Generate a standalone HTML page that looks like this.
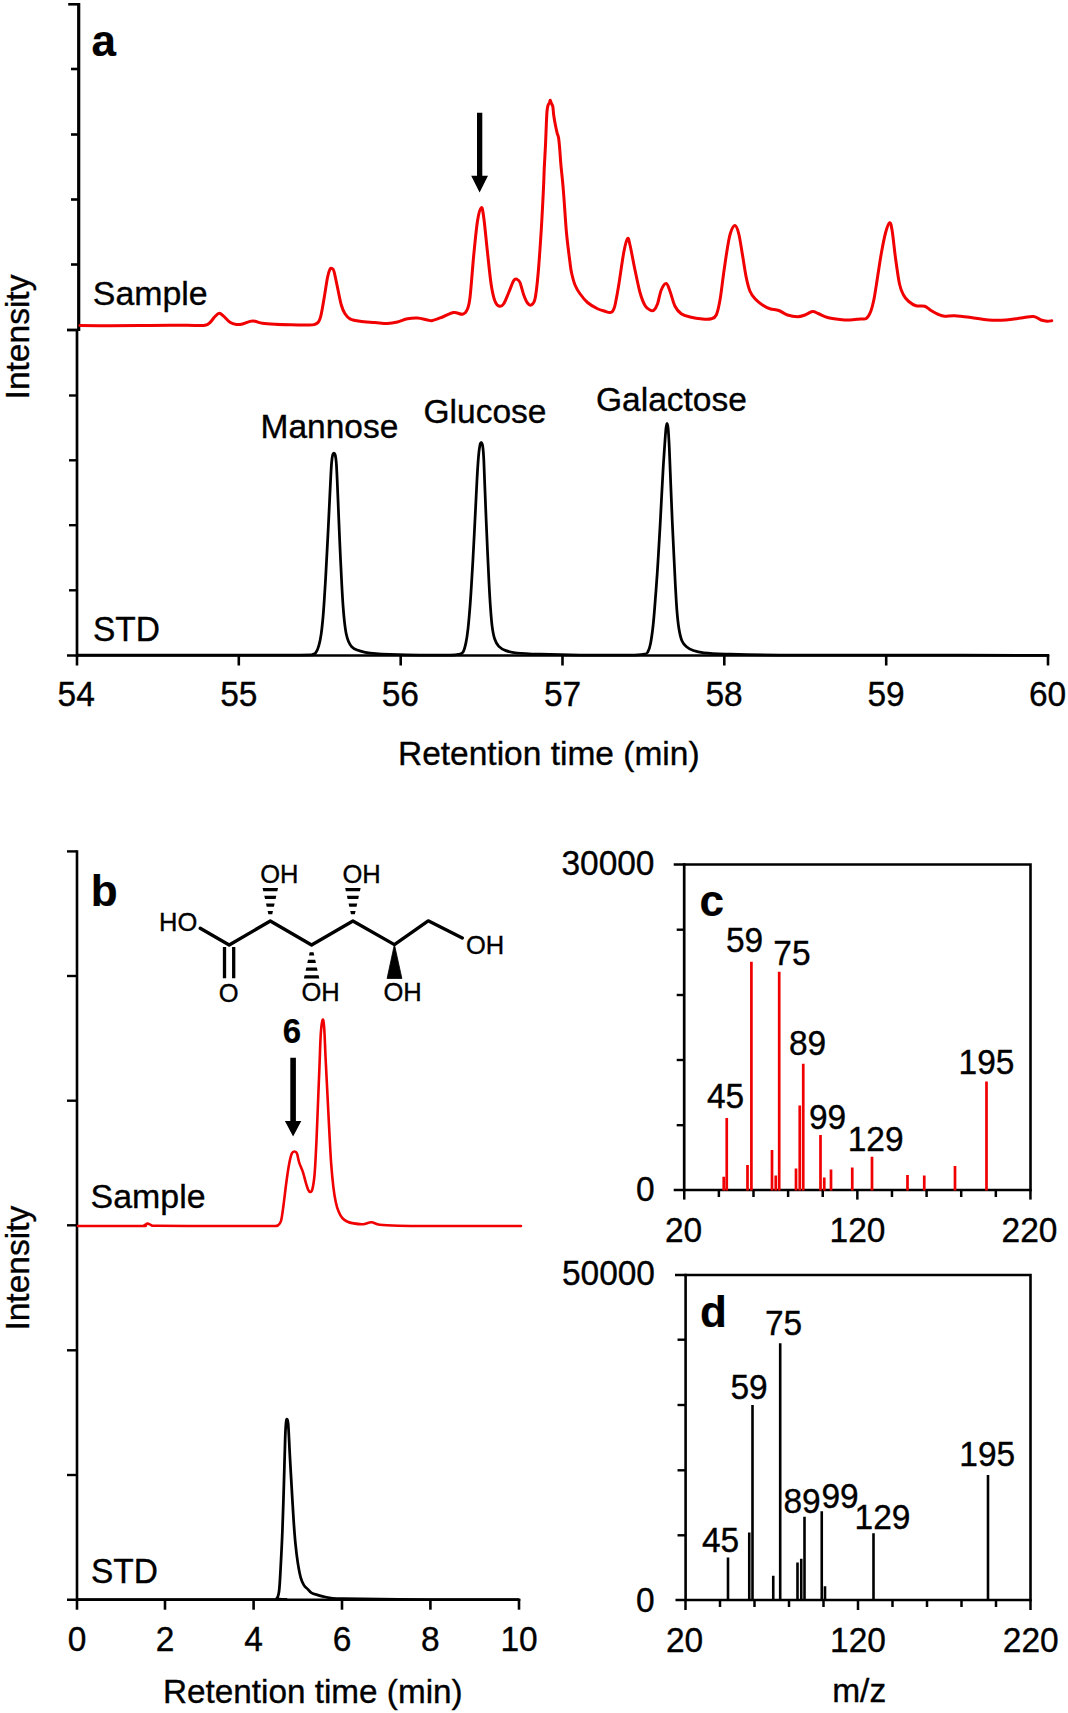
<!DOCTYPE html>
<html lang="en">
<head>
<meta charset="utf-8">
<title>Figure</title>
<style>
html,body{margin:0;padding:0;background:#fff;}
body{width:1068px;height:1713px;overflow:hidden;}
svg{display:block;}
text{font-family:"Liberation Sans",Arial,Helvetica,sans-serif;}
</style>
</head>
<body>
<svg width="1068" height="1713" viewBox="0 0 1068 1713">
<rect width="1068" height="1713" fill="#fff"/>
<g stroke="#000" fill="none" stroke-linecap="butt">
<path d="M78.7 3 V331" stroke-width="3.2"/>
<path d="M68.2 4.3 H79" stroke-width="2.6"/>
<path d="M71 69.0 H79" stroke-width="2.6"/>
<path d="M71 134.5 H79" stroke-width="2.6"/>
<path d="M71 199.5 H79" stroke-width="2.6"/>
<path d="M71 264.5 H79" stroke-width="2.6"/>
<path d="M67 330 H78" stroke-width="2.8"/>
<path d="M77 330 V656.8" stroke-width="2.7"/>
<path d="M69 395.5 H77" stroke-width="2.4"/>
<path d="M69 460.3 H77" stroke-width="2.4"/>
<path d="M69 525.2 H77" stroke-width="2.4"/>
<path d="M69 590.3 H77" stroke-width="2.4"/>
<path d="M67 655.5 H1049.3" stroke-width="2.7"/>
<path d="M77.0 655 V665.5" stroke-width="2.6"/>
<path d="M238.8 655 V665.5" stroke-width="2.6"/>
<path d="M400.7 655 V665.5" stroke-width="2.6"/>
<path d="M562.5 655 V665.5" stroke-width="2.6"/>
<path d="M724.3 655 V665.5" stroke-width="2.6"/>
<path d="M886.2 655 V665.5" stroke-width="2.6"/>
<path d="M1048.0 655 V665.5" stroke-width="2.6"/>
</g>
<path d="M80.00 325.60C85.00 325.63 100.00 325.80 110.00 325.80C120.00 325.80 130.00 325.70 140.00 325.60C150.00 325.50 160.83 325.23 170.00 325.20C179.17 325.17 189.17 325.38 195.00 325.40C200.83 325.42 202.50 325.78 205.00 325.30C207.50 324.82 208.33 323.97 210.00 322.50C211.67 321.03 213.45 318.03 215.00 316.50C216.55 314.97 217.83 313.33 219.30 313.30C220.77 313.27 222.02 314.80 223.80 316.30C225.58 317.80 227.92 320.93 230.00 322.30C232.08 323.67 234.22 324.22 236.30 324.50C238.38 324.78 240.22 324.52 242.50 324.00C244.78 323.48 247.92 321.85 250.00 321.40C252.08 320.95 252.92 320.98 255.00 321.30C257.08 321.62 259.17 322.80 262.50 323.30C265.83 323.80 270.42 324.05 275.00 324.30C279.58 324.55 285.00 324.68 290.00 324.80C295.00 324.92 300.83 325.08 305.00 325.00C309.17 324.92 312.50 325.33 315.00 324.30C317.50 323.27 318.53 322.85 320.00 318.80C321.47 314.75 322.55 306.88 323.80 300.00C325.05 293.12 326.47 282.63 327.50 277.50C328.53 272.37 329.25 270.70 330.00 269.20C330.75 267.70 331.33 268.15 332.00 268.50C332.67 268.85 333.08 268.13 334.00 271.30C334.92 274.47 336.28 281.88 337.50 287.50C338.72 293.12 340.05 300.62 341.30 305.00C342.55 309.38 343.55 311.50 345.00 313.80C346.45 316.10 347.50 317.55 350.00 318.80C352.50 320.05 355.83 320.68 360.00 321.30C364.17 321.92 370.42 322.13 375.00 322.50C379.58 322.87 383.75 323.58 387.50 323.50C391.25 323.42 394.17 322.78 397.50 322.00C400.83 321.22 404.17 319.47 407.50 318.80C410.83 318.13 414.17 317.80 417.50 318.00C420.83 318.20 425.00 319.58 427.50 320.00C430.00 320.42 430.00 321.00 432.50 320.50C435.00 320.00 438.96 318.33 442.50 317.00C446.04 315.67 450.42 312.95 453.75 312.50C457.08 312.05 460.29 314.72 462.50 314.30C464.71 313.88 465.75 312.80 467.00 310.00C468.25 307.20 468.88 306.67 470.00 297.50C471.12 288.33 472.50 267.75 473.75 255.00C475.00 242.25 476.25 228.88 477.50 221.00C478.75 213.12 480.21 208.28 481.25 207.70C482.29 207.12 482.71 210.03 483.75 217.50C484.79 224.97 486.25 241.25 487.50 252.50C488.75 263.75 490.00 276.88 491.25 285.00C492.50 293.12 493.62 297.71 495.00 301.25C496.38 304.79 498.04 305.83 499.50 306.25C500.96 306.67 502.21 306.04 503.75 303.75C505.29 301.46 507.08 296.38 508.75 292.50C510.42 288.62 512.38 282.70 513.75 280.50C515.12 278.30 515.96 278.97 517.00 279.30C518.04 279.63 518.88 279.88 520.00 282.50C521.12 285.12 522.50 291.58 523.75 295.00C525.00 298.42 526.25 301.33 527.50 303.00C528.75 304.67 530.00 305.67 531.25 305.00C532.50 304.33 533.88 304.00 535.00 299.00C536.12 294.00 536.96 286.50 538.00 275.00C539.04 263.50 540.35 244.17 541.25 230.00C542.15 215.83 542.89 200.43 543.40 190.00C543.91 179.57 543.95 174.92 544.30 167.40C544.65 159.88 545.15 152.38 545.50 144.90C545.85 137.42 546.13 128.23 546.40 122.50C546.67 116.77 546.80 113.45 547.10 110.50C547.40 107.55 547.80 106.08 548.20 104.80C548.60 103.52 549.15 103.57 549.50 102.80C549.85 102.03 550.00 100.13 550.30 100.20C550.60 100.27 550.88 102.15 551.30 103.20C551.72 104.25 552.40 104.53 552.80 106.50C553.20 108.47 553.30 112.08 553.70 115.00C554.10 117.92 554.63 121.02 555.20 124.00C555.77 126.98 556.53 130.57 557.10 132.90C557.67 135.23 558.17 135.37 558.60 138.00C559.03 140.63 559.33 144.42 559.70 148.70C560.07 152.98 560.37 158.72 560.80 163.70C561.23 168.68 561.80 173.22 562.30 178.60C562.80 183.98 563.10 186.93 563.80 196.00C564.50 205.07 565.47 221.92 566.50 233.00C567.53 244.08 569.17 255.92 570.00 262.50C570.83 269.08 570.67 268.75 571.50 272.50C572.33 276.25 573.58 281.46 575.00 285.00C576.42 288.54 577.92 290.83 580.00 293.75C582.08 296.67 584.58 300.00 587.50 302.50C590.42 305.00 594.58 307.28 597.50 308.75C600.42 310.22 603.00 310.66 605.00 311.30C607.00 311.94 608.28 312.55 609.50 312.60C610.72 312.65 611.55 312.28 612.30 311.60C613.05 310.92 613.47 309.93 614.00 308.50C614.53 307.07 614.71 306.92 615.50 303.00C616.29 299.08 617.38 293.42 618.75 285.00C620.12 276.58 622.29 260.23 623.75 252.50C625.21 244.77 626.46 239.85 627.50 238.60C628.54 237.35 628.75 239.77 630.00 245.00C631.25 250.23 633.33 262.08 635.00 270.00C636.67 277.92 638.33 286.58 640.00 292.50C641.67 298.42 643.33 302.58 645.00 305.50C646.67 308.42 648.54 309.20 650.00 310.00C651.46 310.80 652.50 311.30 653.75 310.30C655.00 309.30 656.25 307.38 657.50 304.00C658.75 300.62 659.79 293.40 661.25 290.00C662.71 286.60 664.79 283.39 666.25 283.60C667.71 283.81 668.54 287.48 670.00 291.25C671.46 295.02 673.12 302.50 675.00 306.25C676.88 310.00 678.75 311.96 681.25 313.75C683.75 315.54 686.46 316.12 690.00 317.00C693.54 317.88 698.96 318.71 702.50 319.00C706.04 319.29 708.96 319.42 711.25 318.75C713.54 318.08 714.79 318.12 716.25 315.00C717.71 311.88 718.75 307.08 720.00 300.00C721.25 292.92 722.50 281.25 723.75 272.50C725.00 263.75 726.38 254.08 727.50 247.50C728.62 240.92 729.25 236.65 730.50 233.00C731.75 229.35 733.62 225.47 735.00 225.60C736.38 225.72 737.50 228.85 738.75 233.75C740.00 238.65 741.25 247.71 742.50 255.00C743.75 262.29 745.00 271.46 746.25 277.50C747.50 283.54 748.54 287.71 750.00 291.25C751.46 294.79 752.92 296.46 755.00 298.75C757.08 301.04 760.00 303.33 762.50 305.00C765.00 306.67 767.29 307.83 770.00 308.75C772.71 309.67 775.83 309.46 778.75 310.50C781.67 311.54 784.38 313.96 787.50 315.00C790.62 316.04 794.58 316.75 797.50 316.75C800.42 316.75 802.50 315.88 805.00 315.00C807.50 314.12 810.21 311.71 812.50 311.50C814.79 311.29 816.25 312.75 818.75 313.75C821.25 314.75 823.96 316.54 827.50 317.50C831.04 318.46 836.25 319.08 840.00 319.50C843.75 319.92 846.67 320.08 850.00 320.00C853.33 319.92 857.29 319.25 860.00 319.00C862.71 318.75 864.50 319.67 866.25 318.50C868.00 317.33 869.21 315.25 870.50 312.00C871.79 308.75 872.83 304.75 874.00 299.00C875.17 293.25 876.29 285.04 877.50 277.50C878.71 269.96 879.92 261.17 881.25 253.75C882.58 246.33 884.11 238.18 885.50 233.00C886.89 227.82 888.48 223.03 889.60 222.70C890.72 222.37 891.22 225.12 892.20 231.00C893.18 236.88 894.28 249.17 895.50 258.00C896.72 266.83 898.17 277.83 899.50 284.00C900.83 290.17 902.00 292.12 903.50 295.00C905.00 297.88 906.42 299.46 908.50 301.25C910.58 303.04 913.29 304.92 916.00 305.75C918.71 306.58 922.25 305.46 924.75 306.25C927.25 307.04 928.71 309.12 931.00 310.50C933.29 311.88 936.21 313.54 938.50 314.50C940.79 315.46 942.04 316.04 944.75 316.25C947.46 316.46 950.38 315.54 954.75 315.75C959.12 315.96 965.38 316.79 971.00 317.50C976.62 318.21 982.67 319.58 988.50 320.00C994.33 320.42 1000.58 320.33 1006.00 320.00C1011.42 319.67 1016.42 318.58 1021.00 318.00C1025.58 317.42 1030.17 316.17 1033.50 316.50C1036.83 316.83 1038.71 319.21 1041.00 320.00C1043.29 320.79 1045.46 321.12 1047.25 321.25C1049.04 321.38 1051.00 320.83 1051.75 320.75" fill="none" stroke="#f00000" stroke-width="3.0" stroke-linejoin="round" stroke-linecap="round"/>
<path d="M78.00 655.20C98.33 655.20 163.00 655.22 200.00 655.20C237.00 655.18 281.20 655.23 300.00 655.10C318.80 654.97 310.10 654.90 312.80 654.40C315.50 653.90 315.18 653.60 316.20 652.10C317.22 650.60 318.08 648.32 318.90 645.40C319.72 642.48 320.43 639.08 321.10 634.60C321.77 630.12 322.38 624.08 322.90 618.50C323.42 612.92 323.75 607.80 324.20 601.10C324.65 594.40 325.15 586.13 325.60 578.30C326.05 570.47 326.45 562.62 326.90 554.10C327.35 545.58 327.85 536.15 328.30 527.20C328.75 518.25 329.20 508.67 329.60 500.40C330.00 492.13 330.37 483.87 330.70 477.60C331.03 471.33 331.27 466.60 331.60 462.80C331.93 459.00 332.32 456.43 332.70 454.80C333.08 453.17 333.48 453.00 333.90 453.00C334.32 453.00 334.80 453.17 335.20 454.80C335.60 456.43 335.97 458.55 336.30 462.80C336.63 467.05 336.87 472.92 337.20 480.30C337.53 487.68 337.93 498.15 338.30 507.10C338.67 516.05 339.02 525.05 339.40 534.00C339.78 542.95 340.20 552.30 340.60 560.80C341.00 569.30 341.40 577.62 341.80 585.00C342.20 592.38 342.57 599.07 343.00 605.10C343.43 611.13 343.88 616.50 344.40 621.20C344.92 625.90 345.43 629.95 346.10 633.30C346.77 636.65 347.47 639.07 348.40 641.30C349.33 643.53 350.25 645.23 351.70 646.70C353.15 648.17 354.85 649.17 357.10 650.10C359.35 651.03 362.07 651.70 365.20 652.30C368.33 652.90 371.77 653.35 375.90 653.70C380.03 654.05 382.65 654.17 390.00 654.40C397.35 654.63 410.00 654.98 420.00 655.10C430.00 655.22 443.52 655.23 450.00 655.10C456.48 654.97 456.72 654.82 458.90 654.30C461.08 653.78 461.93 653.90 463.10 652.00C464.27 650.10 465.08 646.75 465.90 642.90C466.72 639.05 467.30 635.20 468.00 628.90C468.70 622.60 469.52 612.57 470.10 605.10C470.68 597.63 471.03 591.57 471.50 584.10C471.97 576.63 472.43 568.72 472.90 560.30C473.37 551.88 473.83 542.72 474.30 533.60C474.77 524.48 475.23 514.93 475.70 505.60C476.17 496.27 476.63 485.77 477.10 477.60C477.57 469.43 478.03 461.97 478.50 456.60C478.97 451.23 479.43 447.73 479.90 445.40C480.37 443.07 480.83 442.48 481.30 442.60C481.77 442.72 482.30 443.53 482.70 446.10C483.10 448.67 483.35 451.35 483.70 458.00C484.05 464.65 484.38 475.50 484.80 486.00C485.22 496.50 485.73 509.80 486.20 521.00C486.67 532.20 487.13 542.92 487.60 553.20C488.07 563.48 488.53 573.82 489.00 582.70C489.47 591.58 489.88 599.27 490.40 606.50C490.92 613.73 491.40 620.73 492.10 626.10C492.80 631.47 493.48 635.32 494.60 638.70C495.72 642.08 496.93 644.42 498.80 646.40C500.67 648.38 502.77 649.50 505.80 650.60C508.83 651.70 511.30 652.40 517.00 653.00C522.70 653.60 529.50 653.85 540.00 654.20C550.50 654.55 565.00 654.95 580.00 655.10C595.00 655.25 619.33 655.25 630.00 655.10C640.67 654.95 641.03 654.72 644.00 654.20C646.97 653.68 646.72 653.75 647.80 652.00C648.88 650.25 649.62 648.12 650.50 643.70C651.38 639.28 652.30 632.83 653.10 625.50C653.90 618.17 654.62 608.30 655.30 599.70C655.98 591.10 656.63 582.25 657.20 573.90C657.77 565.55 658.20 557.95 658.70 549.60C659.20 541.25 659.70 532.90 660.20 523.80C660.70 514.70 661.20 504.35 661.70 495.00C662.20 485.65 662.68 476.30 663.20 467.70C663.72 459.10 664.33 449.98 664.80 443.40C665.27 436.82 665.63 431.53 666.00 428.20C666.37 424.87 666.65 423.40 667.00 423.40C667.35 423.40 667.72 424.12 668.10 428.20C668.48 432.28 668.85 438.28 669.30 447.90C669.75 457.52 670.30 473.50 670.80 485.90C671.30 498.30 671.78 510.67 672.30 522.30C672.82 533.93 673.38 545.08 673.90 555.70C674.42 566.32 674.90 576.90 675.40 586.00C675.90 595.10 676.32 603.22 676.90 610.30C677.48 617.38 678.07 623.43 678.90 628.50C679.73 633.57 680.63 637.67 681.90 640.70C683.17 643.73 684.60 645.07 686.50 646.70C688.40 648.33 690.40 649.48 693.30 650.50C696.20 651.52 698.62 652.22 703.90 652.80C709.18 653.38 712.32 653.62 725.00 654.00C737.68 654.38 750.83 654.90 780.00 655.10C809.17 655.30 855.17 655.17 900.00 655.20C944.83 655.23 1024.17 655.28 1049.00 655.30" fill="none" stroke="#000" stroke-width="2.75" stroke-linejoin="round"/>
<path d="M477 112.8 H482.3 V175.7 H488 L479.6 192.5 L471.2 175.7 H477 Z" fill="#000"/>
<g font-family='"Liberation Sans", Arial, Helvetica, sans-serif' fill="#000">
<text transform="translate(91.50 55.50) scale(1 1.000)" font-size="44.00" text-anchor="start" font-weight="bold" stroke="#000" stroke-width="0.20">a</text>
<text transform="translate(92.80 304.70) scale(1 1.000)" font-size="33.90" text-anchor="start" font-weight="normal" stroke="#000" stroke-width="0.35">Sample</text>
<text transform="translate(93.00 641.00) scale(1 1.050)" font-size="33.50" text-anchor="start" font-weight="normal" stroke="#000" stroke-width="0.35">STD</text>
<text transform="translate(260.50 438.30) scale(1 1.000)" font-size="33.50" text-anchor="start" font-weight="normal" stroke="#000" stroke-width="0.35">Mannose</text>
<text transform="translate(423.50 423.40) scale(1 1.000)" font-size="33.50" text-anchor="start" font-weight="normal" stroke="#000" stroke-width="0.35">Glucose</text>
<text transform="translate(596.00 411.00) scale(1 1.000)" font-size="33.50" text-anchor="start" font-weight="normal" stroke="#000" stroke-width="0.35">Galactose</text>
<text transform="translate(76.20 706.30) scale(1 1.050)" font-size="33.50" text-anchor="middle" font-weight="normal" stroke="#000" stroke-width="0.35">54</text>
<text transform="translate(238.80 706.30) scale(1 1.050)" font-size="33.50" text-anchor="middle" font-weight="normal" stroke="#000" stroke-width="0.35">55</text>
<text transform="translate(400.30 706.30) scale(1 1.050)" font-size="33.50" text-anchor="middle" font-weight="normal" stroke="#000" stroke-width="0.35">56</text>
<text transform="translate(562.50 706.30) scale(1 1.050)" font-size="33.50" text-anchor="middle" font-weight="normal" stroke="#000" stroke-width="0.35">57</text>
<text transform="translate(724.10 706.30) scale(1 1.050)" font-size="33.50" text-anchor="middle" font-weight="normal" stroke="#000" stroke-width="0.35">58</text>
<text transform="translate(886.00 706.30) scale(1 1.050)" font-size="33.50" text-anchor="middle" font-weight="normal" stroke="#000" stroke-width="0.35">59</text>
<text transform="translate(1047.50 706.30) scale(1 1.050)" font-size="33.50" text-anchor="middle" font-weight="normal" stroke="#000" stroke-width="0.35">60</text>
<text transform="translate(548.75 764.60) scale(1 1.000)" font-size="33.50" text-anchor="middle" font-weight="normal" stroke="#000" stroke-width="0.35">Retention time (min)</text>
<text transform="translate(29.4 337) rotate(-90)" font-size="33.50" text-anchor="middle" stroke="#000" stroke-width="0.35">Intensity</text>
<text transform="translate(90.70 905.50) scale(1 1.000)" font-size="44.00" text-anchor="start" font-weight="bold" stroke="#000" stroke-width="0.20">b</text>
<text transform="translate(90.60 1208.20) scale(1 1.000)" font-size="33.90" text-anchor="start" font-weight="normal" stroke="#000" stroke-width="0.35">Sample</text>
<text transform="translate(91.00 1582.50) scale(1 1.050)" font-size="33.50" text-anchor="start" font-weight="normal" stroke="#000" stroke-width="0.35">STD</text>
<text transform="translate(77.00 1650.50) scale(1 1.050)" font-size="33.50" text-anchor="middle" font-weight="normal" stroke="#000" stroke-width="0.35">0</text>
<text transform="translate(165.00 1650.50) scale(1 1.050)" font-size="33.50" text-anchor="middle" font-weight="normal" stroke="#000" stroke-width="0.35">2</text>
<text transform="translate(253.60 1650.50) scale(1 1.050)" font-size="33.50" text-anchor="middle" font-weight="normal" stroke="#000" stroke-width="0.35">4</text>
<text transform="translate(342.00 1650.50) scale(1 1.050)" font-size="33.50" text-anchor="middle" font-weight="normal" stroke="#000" stroke-width="0.35">6</text>
<text transform="translate(430.40 1650.50) scale(1 1.050)" font-size="33.50" text-anchor="middle" font-weight="normal" stroke="#000" stroke-width="0.35">8</text>
<text transform="translate(519.00 1650.50) scale(1 1.050)" font-size="33.50" text-anchor="middle" font-weight="normal" stroke="#000" stroke-width="0.35">10</text>
<text transform="translate(312.80 1702.50) scale(1 1.000)" font-size="33.30" text-anchor="middle" font-weight="normal" stroke="#000" stroke-width="0.35">Retention time (min)</text>
<text transform="translate(28.5 1268.2) rotate(-90)" font-size="33.50" text-anchor="middle" stroke="#000" stroke-width="0.35">Intensity</text>
<text transform="translate(291.80 1042.50) scale(1 1.050)" font-size="33.00" text-anchor="middle" font-weight="bold" stroke="#000" stroke-width="0.20">6</text>
<text transform="translate(159.00 930.70) scale(1 1.000)" font-size="25.50" text-anchor="start" font-weight="normal" stroke="#000" stroke-width="0.35">HO</text>
<text transform="translate(228.60 1001.50) scale(1 1.000)" font-size="25.50" text-anchor="middle" font-weight="normal" stroke="#000" stroke-width="0.35">O</text>
<text transform="translate(260.20 883.00) scale(1 1.000)" font-size="25.50" text-anchor="start" font-weight="normal" stroke="#000" stroke-width="0.35">OH</text>
<text transform="translate(342.50 883.00) scale(1 1.000)" font-size="25.50" text-anchor="start" font-weight="normal" stroke="#000" stroke-width="0.35">OH</text>
<text transform="translate(301.50 1001.30) scale(1 1.000)" font-size="25.50" text-anchor="start" font-weight="normal" stroke="#000" stroke-width="0.35">OH</text>
<text transform="translate(383.50 1001.30) scale(1 1.000)" font-size="25.50" text-anchor="start" font-weight="normal" stroke="#000" stroke-width="0.35">OH</text>
<text transform="translate(466.00 953.80) scale(1 1.000)" font-size="25.50" text-anchor="start" font-weight="normal" stroke="#000" stroke-width="0.35">OH</text>
<text transform="translate(654.50 875.00) scale(1 1.050)" font-size="33.50" text-anchor="end" font-weight="normal" stroke="#000" stroke-width="0.35">30000</text>
<text transform="translate(654.50 1201.00) scale(1 1.050)" font-size="33.50" text-anchor="end" font-weight="normal" stroke="#000" stroke-width="0.35">0</text>
<text transform="translate(683.50 1241.50) scale(1 1.050)" font-size="33.50" text-anchor="middle" font-weight="normal" stroke="#000" stroke-width="0.35">20</text>
<text transform="translate(857.50 1241.50) scale(1 1.050)" font-size="33.50" text-anchor="middle" font-weight="normal" stroke="#000" stroke-width="0.35">120</text>
<text transform="translate(1029.50 1241.50) scale(1 1.050)" font-size="33.50" text-anchor="middle" font-weight="normal" stroke="#000" stroke-width="0.35">220</text>
<text transform="translate(699.50 916.00) scale(1 1.000)" font-size="44.00" text-anchor="start" font-weight="bold" stroke="#000" stroke-width="0.20">c</text>
<text transform="translate(725.60 1108.00) scale(1 1.050)" font-size="33.50" text-anchor="middle" font-weight="normal" stroke="#000" stroke-width="0.35">45</text>
<text transform="translate(744.60 952.00) scale(1 1.050)" font-size="33.50" text-anchor="middle" font-weight="normal" stroke="#000" stroke-width="0.35">59</text>
<text transform="translate(791.90 965.00) scale(1 1.050)" font-size="33.50" text-anchor="middle" font-weight="normal" stroke="#000" stroke-width="0.35">75</text>
<text transform="translate(807.50 1055.30) scale(1 1.050)" font-size="33.50" text-anchor="middle" font-weight="normal" stroke="#000" stroke-width="0.35">89</text>
<text transform="translate(827.50 1129.20) scale(1 1.050)" font-size="33.50" text-anchor="middle" font-weight="normal" stroke="#000" stroke-width="0.35">99</text>
<text transform="translate(875.60 1150.50) scale(1 1.050)" font-size="33.50" text-anchor="middle" font-weight="normal" stroke="#000" stroke-width="0.35">129</text>
<text transform="translate(986.50 1074.00) scale(1 1.050)" font-size="33.50" text-anchor="middle" font-weight="normal" stroke="#000" stroke-width="0.35">195</text>
<text transform="translate(655.00 1285.00) scale(1 1.050)" font-size="33.50" text-anchor="end" font-weight="normal" stroke="#000" stroke-width="0.35">50000</text>
<text transform="translate(654.50 1611.50) scale(1 1.050)" font-size="33.50" text-anchor="end" font-weight="normal" stroke="#000" stroke-width="0.35">0</text>
<text transform="translate(684.50 1651.60) scale(1 1.050)" font-size="33.50" text-anchor="middle" font-weight="normal" stroke="#000" stroke-width="0.35">20</text>
<text transform="translate(858.00 1651.60) scale(1 1.050)" font-size="33.50" text-anchor="middle" font-weight="normal" stroke="#000" stroke-width="0.35">120</text>
<text transform="translate(1030.70 1651.60) scale(1 1.050)" font-size="33.50" text-anchor="middle" font-weight="normal" stroke="#000" stroke-width="0.35">220</text>
<text transform="translate(700.00 1327.00) scale(1 1.000)" font-size="44.00" text-anchor="start" font-weight="bold" stroke="#000" stroke-width="0.20">d</text>
<text transform="translate(720.60 1552.00) scale(1 1.050)" font-size="33.50" text-anchor="middle" font-weight="normal" stroke="#000" stroke-width="0.35">45</text>
<text transform="translate(749.10 1398.70) scale(1 1.050)" font-size="33.50" text-anchor="middle" font-weight="normal" stroke="#000" stroke-width="0.35">59</text>
<text transform="translate(783.50 1334.50) scale(1 1.050)" font-size="33.50" text-anchor="middle" font-weight="normal" stroke="#000" stroke-width="0.35">75</text>
<text transform="translate(802.00 1513.00) scale(1 1.050)" font-size="33.50" text-anchor="middle" font-weight="normal" stroke="#000" stroke-width="0.35">89</text>
<text transform="translate(840.00 1507.50) scale(1 1.050)" font-size="33.50" text-anchor="middle" font-weight="normal" stroke="#000" stroke-width="0.35">99</text>
<text transform="translate(882.50 1528.70) scale(1 1.050)" font-size="33.50" text-anchor="middle" font-weight="normal" stroke="#000" stroke-width="0.35">129</text>
<text transform="translate(987.20 1466.00) scale(1 1.050)" font-size="33.50" text-anchor="middle" font-weight="normal" stroke="#000" stroke-width="0.35">195</text>
<text transform="translate(859.20 1701.50) scale(1 1.000)" font-size="33.50" text-anchor="middle" font-weight="normal" stroke="#000" stroke-width="0.35">m/z</text>
</g>
<g stroke="#000" fill="none">
<path d="M77 850.2 V1601" stroke-width="2.6"/>
<path d="M67 851.4 H77" stroke-width="2.4"/>
<path d="M67 976.0 H77" stroke-width="2.4"/>
<path d="M67 1100.7 H77" stroke-width="2.4"/>
<path d="M67 1225.3 H77" stroke-width="2.4"/>
<path d="M67 1350.3 H77" stroke-width="2.4"/>
<path d="M67 1475.0 H77" stroke-width="2.4"/>
<path d="M67 1599.7 H520.3" stroke-width="2.6"/>
<path d="M77.0 1599 V1609.7" stroke-width="2.6"/>
<path d="M165.0 1599 V1609.7" stroke-width="2.6"/>
<path d="M253.6 1599 V1609.7" stroke-width="2.6"/>
<path d="M342.0 1599 V1609.7" stroke-width="2.6"/>
<path d="M430.4 1599 V1609.7" stroke-width="2.6"/>
<path d="M519.0 1599 V1609.7" stroke-width="2.6"/>
</g>
<path d="M78.00 1226.00C88.33 1226.00 129.00 1226.10 140.00 1226.00C151.00 1225.90 142.75 1225.80 144.00 1225.40C145.25 1225.00 146.33 1223.67 147.50 1223.60C148.67 1223.53 149.42 1224.63 151.00 1225.00C152.58 1225.37 148.83 1225.63 157.00 1225.80C165.17 1225.97 184.50 1225.97 200.00 1226.00C215.50 1226.03 238.00 1226.00 250.00 1226.00C262.00 1226.00 267.37 1226.08 272.00 1226.00C276.63 1225.92 276.30 1226.33 277.80 1225.50C279.30 1224.67 280.07 1224.25 281.00 1221.00C281.93 1217.75 282.53 1212.25 283.40 1206.00C284.27 1199.75 285.27 1190.37 286.20 1183.50C287.13 1176.63 288.07 1169.78 289.00 1164.80C289.93 1159.82 290.87 1155.82 291.80 1153.60C292.73 1151.38 293.73 1151.50 294.60 1151.50C295.47 1151.50 296.22 1151.70 297.00 1153.60C297.78 1155.50 298.30 1159.78 299.30 1162.90C300.30 1166.02 301.92 1169.02 303.00 1172.30C304.08 1175.58 304.92 1179.65 305.80 1182.60C306.68 1185.55 307.58 1188.43 308.30 1190.00C309.02 1191.57 309.42 1192.15 310.10 1192.00C310.78 1191.85 311.65 1192.07 312.40 1189.10C313.15 1186.13 313.92 1182.32 314.60 1174.20C315.28 1166.08 315.93 1152.27 316.50 1140.40C317.07 1128.53 317.50 1115.48 318.00 1103.00C318.50 1090.52 319.03 1077.05 319.50 1065.50C319.97 1053.95 320.27 1041.33 320.80 1033.70C321.33 1026.07 322.13 1020.65 322.70 1019.70C323.27 1018.75 323.73 1021.92 324.20 1028.00C324.67 1034.08 324.97 1045.27 325.50 1056.20C326.03 1067.13 326.77 1081.13 327.40 1093.60C328.03 1106.07 328.68 1119.45 329.30 1131.00C329.92 1142.55 330.42 1153.52 331.10 1162.90C331.78 1172.28 332.62 1180.75 333.40 1187.30C334.18 1193.85 334.93 1198.15 335.80 1202.20C336.67 1206.25 337.50 1208.93 338.60 1211.60C339.70 1214.27 341.00 1216.55 342.40 1218.20C343.80 1219.85 345.13 1220.63 347.00 1221.50C348.87 1222.37 350.93 1222.95 353.60 1223.40C356.27 1223.85 360.03 1224.38 363.00 1224.20C365.97 1224.02 368.60 1222.22 371.40 1222.30C374.20 1222.38 375.28 1224.13 379.80 1224.70C384.32 1225.27 390.13 1225.48 398.50 1225.70C406.87 1225.92 409.58 1225.95 430.00 1226.00C450.42 1226.05 505.83 1226.00 521.00 1226.00" fill="none" stroke="#f00000" stroke-width="2.6" stroke-linejoin="round" stroke-linecap="round"/>
<path d="M78.00 1599.60C110.00 1599.60 236.87 1599.82 270.00 1599.60C303.13 1599.38 275.28 1599.73 276.80 1598.30C278.32 1596.87 278.47 1595.97 279.10 1591.00C279.73 1586.03 280.05 1578.50 280.60 1568.50C281.15 1558.50 281.85 1545.03 282.40 1531.00C282.95 1516.97 283.43 1499.88 283.90 1484.30C284.37 1468.72 284.83 1447.85 285.20 1437.50C285.57 1427.15 285.78 1425.25 286.10 1422.20C286.42 1419.15 286.73 1418.68 287.10 1419.20C287.47 1419.72 287.83 1419.13 288.30 1425.30C288.77 1431.47 289.32 1445.43 289.90 1456.20C290.48 1466.97 291.17 1478.98 291.80 1489.90C292.43 1500.82 293.08 1512.65 293.70 1521.70C294.32 1530.75 294.82 1537.33 295.50 1544.20C296.18 1551.07 296.92 1557.28 297.80 1562.90C298.68 1568.52 299.77 1574.15 300.80 1577.90C301.83 1581.65 302.85 1583.53 304.00 1585.40C305.15 1587.27 306.45 1587.85 307.70 1589.10C308.95 1590.35 309.78 1591.90 311.50 1592.90C313.22 1593.90 315.67 1594.42 318.00 1595.10C320.33 1595.78 321.43 1596.40 325.50 1597.00C329.57 1597.60 324.98 1598.28 342.40 1598.70C359.82 1599.12 400.57 1599.35 430.00 1599.50C459.43 1599.65 504.17 1599.58 519.00 1599.60" fill="none" stroke="#000" stroke-width="2.75" stroke-linejoin="round"/>
<path d="M290.3 1057.7 H295.9 V1121 H301.3 L293.1 1136.5 L284.9 1121 H290.3 Z" fill="#000"/>
<g stroke="#000" stroke-width="3.3" fill="none" stroke-linecap="round" stroke-linejoin="round">
<path d="M200.2 928.3 L229.2 945 L270.3 921.0 L311.6 945 L352.9 921.0 L394.4 944.6 L428.2 920.8 L462.3 938"/>
<path d="M224.5 947 V978.3 M233.7 947 V978.3" stroke-linecap="butt"/>
</g>
<path d="M268.37 914.25 L272.24 914.25 L272.96 910.95 L267.64 910.95 Z M266.72 906.75 L273.88 906.75 L274.61 903.45 L265.99 903.45 Z M265.02 899.05 L275.58 899.05 L276.31 895.75 L264.30 895.75 Z M263.31 891.25 L277.30 891.25 L278.02 887.95 L262.58 887.95 Z" fill="#000" stroke="none"/>
<path d="M350.96 914.25 L354.83 914.25 L355.56 910.95 L350.24 910.95 Z M349.31 906.75 L356.48 906.75 L357.21 903.45 L348.59 903.45 Z M347.62 899.05 L358.18 899.05 L358.90 895.75 L346.89 895.75 Z M345.90 891.25 L359.89 891.25 L360.62 887.95 L345.18 887.95 Z" fill="#000" stroke="none"/>
<path d="M309.67 952.25 L313.54 952.25 L314.26 955.55 L308.94 955.55 Z M308.02 959.75 L315.19 959.75 L315.91 963.05 L307.29 963.05 Z M306.32 967.45 L316.88 967.45 L317.61 970.75 L305.60 970.75 Z M304.61 975.25 L318.60 975.25 L319.32 978.55 L303.88 978.55 Z" fill="#000" stroke="none"/>
<path d="M394.4 944.4 L401.9 978.5 H387.1 Z" fill="#000" stroke="#000" stroke-width="0.8" stroke-linejoin="round"/>
<g stroke="#000" fill="none">
<path d="M673.7 864.5 H1031.8 M1030.5 863.2 V1191.2" stroke-width="2.6"/>
<path d="M684.2 863.2 V1191.2" stroke-width="2.7"/>
<path d="M673.7 1190 H1031.6" stroke-width="2.6"/>
<path d="M676.7 929.7 H684.2" stroke-width="2.4"/>
<path d="M676.7 995.0 H684.2" stroke-width="2.4"/>
<path d="M676.7 1060.0 H684.2" stroke-width="2.4"/>
<path d="M676.7 1125.2 H684.2" stroke-width="2.4"/>
<path d="M684.25 1190 V1199.6" stroke-width="2.5"/>
<path d="M718.87 1190 V1197.0" stroke-width="2.5"/>
<path d="M753.49 1190 V1197.0" stroke-width="2.5"/>
<path d="M788.11 1190 V1197.0" stroke-width="2.5"/>
<path d="M822.73 1190 V1197.0" stroke-width="2.5"/>
<path d="M857.35 1190 V1199.6" stroke-width="2.5"/>
<path d="M891.97 1190 V1197.0" stroke-width="2.5"/>
<path d="M926.59 1190 V1197.0" stroke-width="2.5"/>
<path d="M961.21 1190 V1197.0" stroke-width="2.5"/>
<path d="M995.83 1190 V1197.0" stroke-width="2.5"/>
<path d="M1030.45 1190 V1199.6" stroke-width="2.5"/>
</g>
<path d="M723.75 1190.4 V1176.75 M726.75 1190.4 V1118.00 M747.50 1190.4 V1165.00 M751.40 1190.4 V961.75 M772.00 1190.4 V1150.00 M775.75 1190.4 V1175.50 M779.20 1190.4 V971.75 M796.00 1190.4 V1168.50 M799.75 1190.4 V1105.50 M803.25 1190.4 V1063.75 M820.50 1190.4 V1135.00 M824.25 1190.4 V1177.50 M831.00 1190.4 V1169.50 M852.25 1190.4 V1167.50 M872.00 1190.4 V1156.75 M907.50 1190.4 V1175.00 M924.25 1190.4 V1175.50 M955.00 1190.4 V1166.00 M986.50 1190.4 V1081.50" stroke="#f00000" stroke-width="2.7" fill="none"/>
<g stroke="#000" fill="none">
<path d="M675 1275 H1031.8 M1030.5 1273.7 V1601.3" stroke-width="2.6"/>
<path d="M685.6 1273.7 V1601.3" stroke-width="2.6"/>
<path d="M675.5 1600 H1031.6" stroke-width="2.6"/>
<path d="M677.5 1339.7 H685.6" stroke-width="2.4"/>
<path d="M677.5 1405.0 H685.6" stroke-width="2.4"/>
<path d="M677.5 1470.3 H685.6" stroke-width="2.4"/>
<path d="M677.5 1535.3 H685.6" stroke-width="2.4"/>
<path d="M685.50 1600 V1610.0" stroke-width="2.5"/>
<path d="M720.00 1600 V1607.0" stroke-width="2.5"/>
<path d="M754.50 1600 V1607.0" stroke-width="2.5"/>
<path d="M789.00 1600 V1607.0" stroke-width="2.5"/>
<path d="M823.50 1600 V1607.0" stroke-width="2.5"/>
<path d="M858.00 1600 V1610.0" stroke-width="2.5"/>
<path d="M892.50 1600 V1607.0" stroke-width="2.5"/>
<path d="M927.00 1600 V1607.0" stroke-width="2.5"/>
<path d="M961.50 1600 V1607.0" stroke-width="2.5"/>
<path d="M996.00 1600 V1607.0" stroke-width="2.5"/>
<path d="M1030.50 1600 V1610.0" stroke-width="2.5"/>
</g>
<path d="M728.00 1599 V1557.50 M749.25 1599 V1532.50 M752.50 1599 V1405.00 M773.25 1599 V1575.75 M780.20 1599 V1343.25 M797.50 1599 V1562.50 M801.25 1599 V1558.75 M804.50 1599 V1516.75 M821.75 1599 V1511.25 M825.00 1599 V1586.25 M873.50 1599 V1533.25 M988.00 1599 V1475.00" stroke="#000" stroke-width="2.6" fill="none"/>
</svg>
</body>
</html>
